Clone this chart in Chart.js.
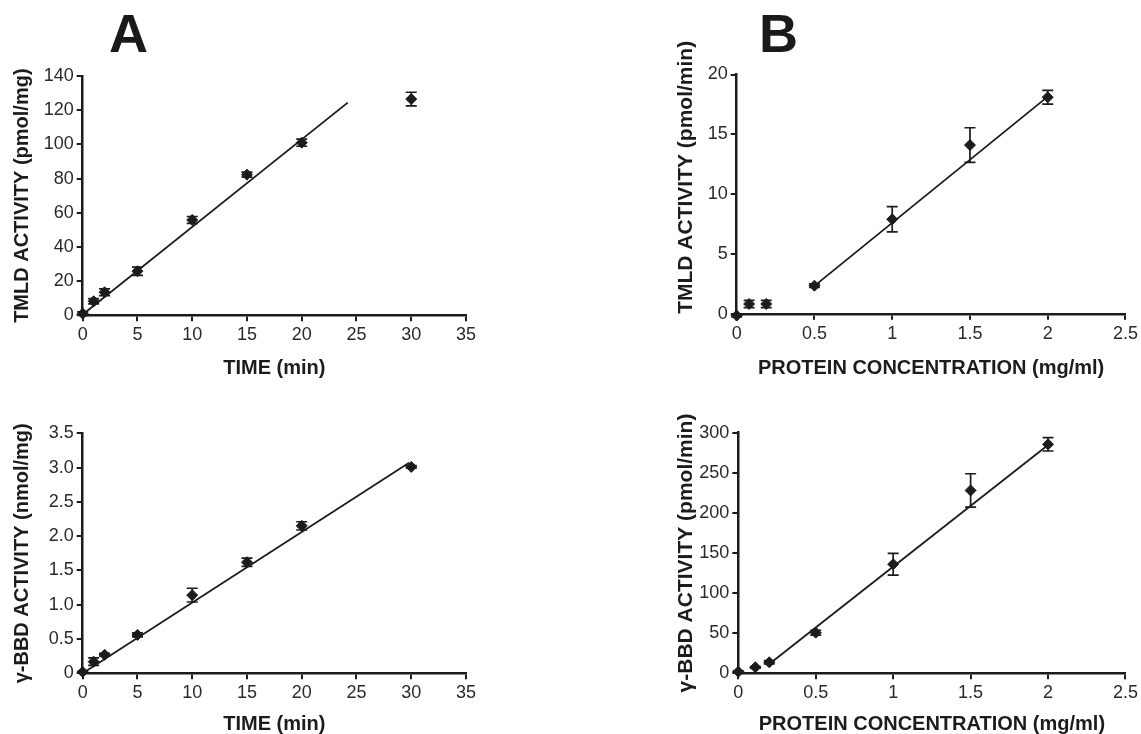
<!DOCTYPE html>
<html>
<head>
<meta charset="utf-8">
<script src="https://cdn.jsdelivr.net/npm/chart.js@4.4.1/dist/chart.umd.min.js"></script>
<style>
  body { margin: 0; background: #fff; width: 1141px; height: 734px; position: relative; overflow: hidden; }
  canvas { position: absolute; }
  .letter { position: absolute; font: bold 54px/1 "Liberation Sans", Arial, sans-serif; color: #1a1a1a; }
</style>
</head>
<body>
<div class="letter" style="left:109px;top:6px">A</div>
<div class="letter" style="left:759px;top:6px">B</div>
<canvas id="tmldTime"></canvas>
<canvas id="gbbTime"></canvas>
<canvas id="tmldProtein"></canvas>
<canvas id="gbbProtein"></canvas>
<script>
// --- data ---
const timeMin = [0, 1, 2, 5, 10, 15, 20, 30];
const tmldByTime = [1, 8.2, 13.5, 25.8, 55.8, 82.3, 101, 126.5];
const tmldByTimeSem = [1, 1.5, 2, 2.4, 2, 1.5, 2.1, 4];
const tmldTimeFitX = [0, 24.2];
const tmldTimeFitY = [0.5, 124.4];

const gbbByTime = [0.02, 0.17, 0.27, 0.56, 1.14, 1.62, 2.15, 3.01];
const gbbByTimeSem = [0.01, 0.055, 0.02, 0.03, 0.1, 0.06, 0.06, 0.02];
const gbbTimeFitX = [0, 29.8];
const gbbTimeFitY = [0, 3.07];

const proteinTmld = [0, 0.08, 0.19, 0.5, 1, 1.5, 2];
const tmldByProtein = [-0.15, 0.82, 0.82, 2.35, 7.9, 14.1, 18.1];
const tmldByProteinSem = [0.1, 0.3, 0.3, 0.15, 1.05, 1.45, 0.57];
const tmldProteinFitX = [0.5, 2];
const tmldProteinFitY = [2.33, 18.15];

const proteinGbb = [0, 0.11, 0.2, 0.5, 1, 1.5, 2];
const gbbByProtein = [2, 7.5, 13.7, 50.7, 136, 228, 285.5];
const gbbByProteinSem = [1, 1, 2, 3, 13.5, 20.8, 8.3];
const gbbProteinFitX = [0.2, 2];
const gbbProteinFitY = [11.6, 284.6];

// tick labels
const timeTicks = ['0', '5', '10', '15', '20', '25', '30', '35'];
const proteinTicks = ['0', '0.5', '1', '1.5', '2', '2.5'];
const tmldTimeTicks = ['0', '20', '40', '60', '80', '100', '120', '140'];
const gbbTimeTicks = ['0', '0.5', '1.0', '1.5', '2.0', '2.5', '3.0', '3.5'];
const tmldProteinTicks = ['0', '5', '10', '15', '20'];
const gbbProteinTicks = ['0', '50', '100', '150', '200', '250', '300'];

const INK = '#1d1b1c';
const FONT = '"Liberation Sans", Arial, sans-serif';

const toPoints = (xs, ys) => xs.map((x, i) => ({ x: x, y: ys[i] }));

// vertical error bars with caps
const errorBars = {
  id: 'errorBars',
  afterDatasetsDraw(chart) {
    const { ctx, scales: { x, y } } = chart;
    chart.data.datasets.forEach(ds => {
      if (!ds.errors) return;
      ctx.save();
      ctx.strokeStyle = INK;
      ctx.lineWidth = 1.7;
      ds.data.forEach((p, i) => {
        const e = ds.errors[i];
        const px = x.getPixelForValue(p.x);
        const top = y.getPixelForValue(p.y + e);
        const bot = y.getPixelForValue(p.y - e);
        ctx.beginPath();
        ctx.moveTo(px, top); ctx.lineTo(px, bot);
        ctx.moveTo(px - 5.5, top); ctx.lineTo(px + 5.5, top);
        ctx.moveTo(px - 5.5, bot); ctx.lineTo(px + 5.5, bot);
        ctx.stroke();
      });
      ctx.restore();
    });
  }
};

function axis(min, max, step, labels, fitSize, horizontal, title, titleSize) {
  return {
    type: 'linear', min: min, max: max,
    afterFit: s => { if (horizontal) s.height = fitSize; else s.width = fitSize; },
    border: { display: true, color: INK, width: 2.5 },
    grid: { drawOnChartArea: false, drawTicks: true, tickLength: 6, color: INK, lineWidth: 2 },
    ticks: {
      stepSize: step, autoSkip: false, maxRotation: 0, padding: 3,
      color: '#2b292a', font: { size: 18, family: FONT },
      callback: (v, i) => labels[i]
    },
    title: Object.assign({
      display: true, color: INK,
      font: { size: titleSize || 20, weight: 'bold', family: FONT, lineHeight: 1 }
    }, title)
  };
}

function panel(id, box, area, p) {
  const cv = document.getElementById(id);
  cv.width = box.w; cv.height = box.h;
  cv.style.left = box.x + 'px';
  cv.style.top = box.y + 'px';
  new Chart(cv, {
    type: 'scatter',
    data: {
      datasets: [
        {
          data: toPoints(p.xs, p.ys), errors: p.err,
          pointStyle: 'rectRot', pointRadius: 5.5, pointBorderWidth: 1,
          backgroundColor: INK, borderColor: INK, clip: false
        },
        {
          type: 'line', data: toPoints(p.fitX, p.fitY), showLine: true,
          pointRadius: 0, borderColor: INK, borderWidth: 1.8, fill: false, clip: false
        }
      ]
    },
    options: {
      responsive: false,
      animation: false,
      layout: { padding: { left: 0, top: area.top - box.y, right: box.x + box.w - area.right, bottom: 0 } },
      plugins: { legend: { display: false }, tooltip: { enabled: false } },
      scales: {
        x: axis(p.xMin, p.xMax, p.xStep, p.xTicks, box.y + box.h - area.bottom, true,
          { text: p.xTitle, padding: { top: 0, bottom: p.xPad } }),
        y: axis(p.yMin, p.yMax, p.yStep, p.yTicks, area.left - box.x, false,
          { text: p.yTitle, align: p.yAlign, padding: { top: p.yPad, bottom: 0 } }, p.yTitleSize)
      }
    },
    plugins: [errorBars]
  });
}

panel('tmldTime', { x: 0, y: 50, w: 480, h: 330 }, { left: 82.7, top: 76, right: 466, bottom: 315.3 }, {
  xs: timeMin, ys: tmldByTime, err: tmldByTimeSem, fitX: tmldTimeFitX, fitY: tmldTimeFitY,
  xMin: 0, xMax: 35, xStep: 5, xTicks: timeTicks, xTitle: 'TIME (min)', xPad: 2,
  yMin: 0, yMax: 140, yStep: 20, yTicks: tmldTimeTicks, yTitle: 'TMLD ACTIVITY (pmol/mg)', yAlign: 'center', yPad: 12
});

panel('gbbTime', { x: 0, y: 400, w: 480, h: 334 }, { left: 82.7, top: 433.3, right: 466, bottom: 673.3 }, {
  xs: timeMin, ys: gbbByTime, err: gbbByTimeSem, fitX: gbbTimeFitX, fitY: gbbTimeFitY,
  xMin: 0, xMax: 35, xStep: 5, xTicks: timeTicks, xTitle: 'TIME (min)', xPad: 0,
  yMin: 0, yMax: 3.5, yStep: 0.5, yTicks: gbbTimeTicks, yTitle: 'γ-BBD ACTIVITY (nmol/mg)', yAlign: 'center', yPad: 12
});

panel('tmldProtein', { x: 670, y: 20, w: 471, h: 360 }, { left: 736.7, top: 74.5, right: 1126.3, bottom: 313.8 }, {
  xs: proteinTmld, ys: tmldByProtein, err: tmldByProteinSem, fitX: tmldProteinFitX, fitY: tmldProteinFitY,
  xMin: 0, xMax: 2.5, xStep: 0.5, xTicks: proteinTicks, xTitle: 'PROTEIN CONCENTRATION (mg/ml)', xPad: 2,
  yMin: 0, yMax: 20, yStep: 5, yTicks: tmldProteinTicks, yTitle: 'TMLD ACTIVITY (pmol/min)', yAlign: 'start', yPad: 5.5, yTitleSize: 21
});

panel('gbbProtein', { x: 670, y: 390, w: 471, h: 344 }, { left: 738.3, top: 432.7, right: 1127, bottom: 673.3 }, {
  xs: proteinGbb, ys: gbbByProtein, err: gbbByProteinSem, fitX: gbbProteinFitX, fitY: gbbProteinFitY,
  xMin: 0, xMax: 2.5, xStep: 0.5, xTicks: proteinTicks, xTitle: 'PROTEIN CONCENTRATION (mg/ml)', xPad: 0,
  yMin: 0, yMax: 300, yStep: 50, yTicks: gbbProteinTicks, yTitle: 'γ-BBD ACTIVITY (pmol/min)', yAlign: 'center', yPad: 5.5, yTitleSize: 21
});
</script>
</body>
</html>
